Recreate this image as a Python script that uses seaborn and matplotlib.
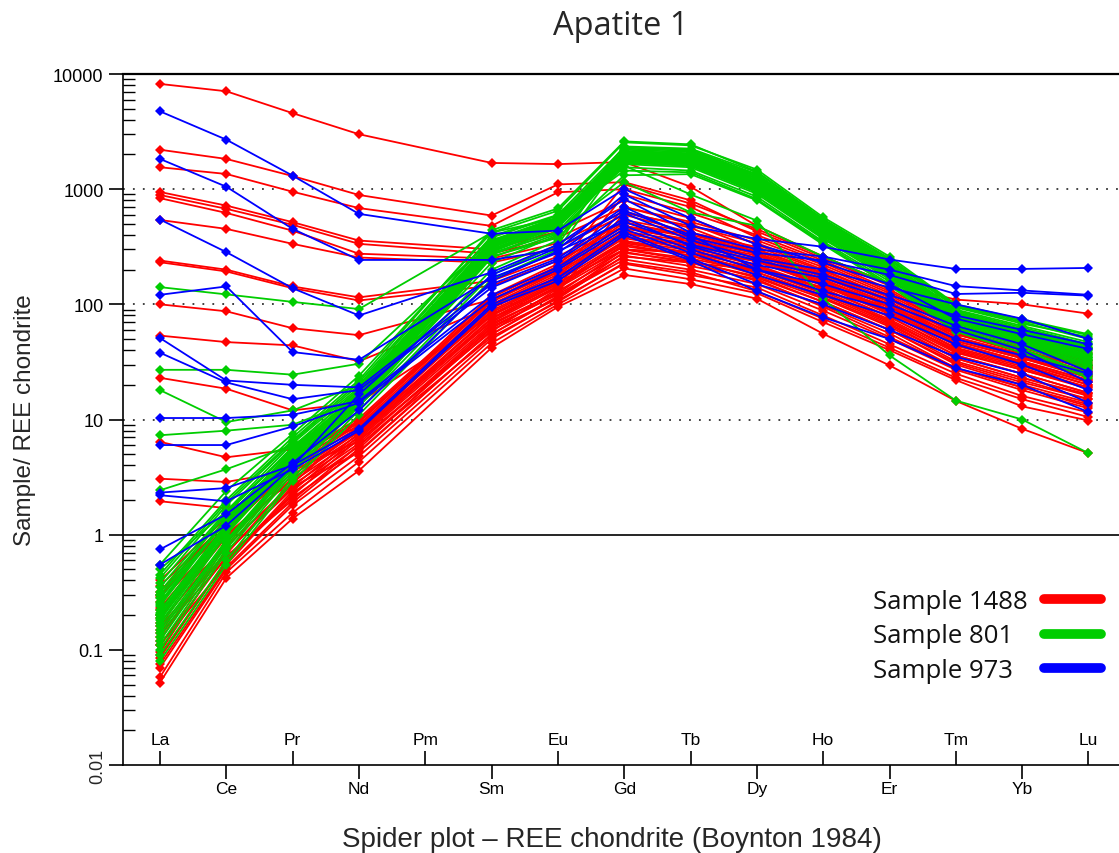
import matplotlib
matplotlib.use("Agg")
import matplotlib.pyplot as plt
import matplotlib.transforms as mtransforms
from matplotlib.lines import Line2D
from matplotlib.ticker import LogLocator, NullFormatter
import numpy as np
import pandas as pd
import seaborn as sns

# ---------------- data ----------------
elements = ["La", "Ce", "Pr", "Nd", "Pm", "Sm", "Eu", "Gd", "Tb", "Dy", "Ho", "Er", "Tm", "Yb", "Lu"]
measured = ["La", "Ce", "Pr", "Nd", "Sm", "Eu", "Gd", "Tb", "Dy", "Ho", "Er", "Tm", "Yb", "Lu"]
upper_labels = ["La", "Pr", "Pm", "Eu", "Tb", "Ho", "Tm", "Lu"]
lower_labels = ["Ce", "Nd", "Sm", "Gd", "Dy", "Er", "Yb"]
y_tick_values = [0.01, 0.1, 1, 10, 100, 1000, 10000]
y_tick_labels = ["0.01", "0.1", "1", "10", "100", "1000", "10000"]
sample_names = ["Sample 1488", "Sample 801", "Sample 973"]
sample_colors = ["#FF0000", "#00CD00", "#0000FF"]

# each row: La Ce Pr Nd Sm Eu Gd Tb Dy Ho Er Tm Yb Lu (chondrite normalised)
s1488 = [
    [8200, 7080, 4570, 3000, 1690, 1650, 1720, 1050, 480, 260, 150, 110, 100, 83],
    [2200, 1830, 1300, 890, 590, 1100, 1150, 800, 430, 250, 145, 75, 52, 38],
    [1550, 1355, 950, 685, 480, 940, 1000, 700, 380, 230, 130, 62, 45, 32],
    [945, 720, 517, 358, 300, 430, 800, 560, 330, 200, 115, 56, 40, 28],
    [890, 675, 490, 335, 275, 380, 700, 500, 300, 185, 105, 52, 36, 26],
    [835, 622, 436, 275, 250, 340, 640, 460, 280, 175, 100, 48, 34, 24],
    [540, 452, 335, 255, 230, 310, 600, 420, 270, 165, 95, 46, 32, 22],
    [240, 200, 143, 115, 160, 260, 520, 380, 250, 155, 88, 44, 31, 21],
    [232, 193, 138, 108, 145, 240, 480, 350, 235, 148, 84, 41, 29, 20],
    [100, 87, 62, 54, 110, 190, 420, 320, 215, 135, 78, 39, 27, 19],
    [53.5, 47, 44, 32, 95, 170, 390, 300, 200, 125, 72, 36, 25, 17],
    [23, 18.5, 12, 14, 80, 150, 350, 280, 190, 120, 68, 34, 23, 16],
    [6.4, 4.7, 5.5, 8.5, 70, 140, 330, 265, 180, 112, 64, 32, 22, 15],
    [3.06, 2.87, 3.6, 6.5, 62, 125, 300, 240, 170, 105, 60, 30, 20, 14],
    [1.95, 1.7, 2.6, 5.2, 55, 115, 285, 230, 160, 98, 56, 28, 19, 13],
    [0.052, 0.42, 1.38, 3.6, 42, 95, 180, 150, 112, 55.5, 29.5, 14.5, 8.3, 5.1],
    [0.058, 0.47, 1.55, 4.3, 46, 100, 205, 165, 125, 70, 40, 22, 13, 9.8],
    [0.07, 0.5, 1.8, 4.8, 50, 108, 225, 180, 140, 80, 45, 25, 16, 11.5],
    [0.085, 0.6, 2.1, 5.3, 55, 118, 245, 200, 150, 88, 50, 27, 18, 12.5],
    [0.11, 0.55, 2.3, 5.9, 60, 112, 265, 215, 165, 95, 52, 28, 19, 13.5],
    [0.095, 0.72, 2.5, 6.2, 66, 130, 280, 235, 175, 105, 60, 31, 21, 15],
    [0.13, 0.8, 2.7, 6.6, 58, 138, 300, 250, 190, 115, 66, 34, 23, 16.5],
    [0.15, 0.68, 2.9, 7.0, 72, 145, 320, 265, 200, 125, 70, 36, 25, 17],
    [0.12, 0.9, 3.1, 7.4, 76, 150, 340, 280, 210, 130, 74, 38, 27, 18.5],
    [0.17, 0.85, 3.3, 7.8, 82, 160, 355, 295, 220, 138, 78, 40, 28, 19],
    [0.2, 1.0, 3.0, 8.2, 88, 168, 375, 305, 235, 145, 82, 42, 30, 20],
    [0.19, 0.95, 3.5, 8.0, 92, 175, 390, 320, 245, 150, 86, 44, 31, 21],
    [0.23, 1.1, 3.8, 8.6, 97, 182, 410, 335, 255, 158, 90, 46, 32, 22],
    [0.26, 1.05, 4.0, 9.0, 100, 190, 430, 350, 265, 165, 95, 48, 34, 23],
    [0.29, 1.2, 4.2, 9.4, 105, 198, 455, 365, 275, 172, 100, 50, 35, 24],
    [0.32, 1.3, 4.5, 9.8, 110, 205, 480, 385, 290, 180, 105, 52, 37, 25],
    [0.36, 1.25, 4.8, 10.2, 115, 215, 510, 400, 300, 188, 110, 55, 38, 26],
    [0.4, 1.4, 5.0, 9.5, 120, 225, 540, 420, 315, 195, 115, 57, 40, 27],
    [0.14, 0.62, 2.2, 6.8, 68, 128, 620, 480, 340, 210, 120, 60, 42, 29],
    [0.09, 0.58, 2.4, 7.2, 75, 142, 700, 520, 360, 220, 125, 62, 44, 30],
    [0.22, 0.78, 2.8, 8.8, 85, 165, 900, 620, 400, 240, 135, 65, 46, 31],
    [0.3, 1.15, 3.7, 9.6, 108, 210, 1100, 750, 450, 260, 150, 70, 48, 33],
    [0.075, 0.52, 1.9, 5.6, 64, 122, 260, 230, 200, 140, 95, 55, 40, 28],
    [0.16, 0.7, 2.6, 7.6, 80, 155, 300, 280, 240, 160, 100, 58, 42, 29],
    [0.11, 0.65, 2.0, 6.0, 52, 105, 230, 190, 130, 75, 42, 23, 15, 10.5],
]

s801 = [
    [141, 122, 105, 91, 420, 560, 2050, 1850, 1150, 470, 210, 85, 58, 42],
    [27, 27, 24.5, 30.5, 360, 520, 1900, 1750, 1050, 430, 195, 78, 52, 36],
    [18, 9.5, 12, 20, 300, 470, 1750, 1650, 980, 410, 185, 73, 50, 34],
    [7.3, 8.0, 9.0, 15, 270, 430, 1800, 1700, 1000, 415, 188, 74, 50, 35],
    [2.43, 3.7, 6.0, 13, 255, 410, 1700, 1600, 950, 400, 182, 70, 48, 33],
    [0.3, 1.3, 5.2, 15, 330, 480, 1600, 900, 533, 112, 36, 14.6, 10, 5.1],
    [0.5, 1.6, 5.5, 17, 280, 420, 1150, 630, 480, 260, 150, 65, 45, 30],
    [0.55, 2.4, 7.5, 24, 420, 650, 2550, 2400, 1480, 570, 260, 100, 74, 55],
    [0.12, 0.8, 3.8, 14, 300, 500, 2350, 2250, 1400, 540, 245, 96, 70, 50],
    [0.42, 1.9, 6.6, 21, 390, 600, 2300, 2200, 1350, 530, 240, 94, 68, 52],
    [0.09, 0.6, 3.1, 12, 180, 330, 2250, 2150, 1330, 520, 232, 90, 65, 47],
    [0.35, 1.6, 6.2, 19, 360, 570, 2200, 2100, 1300, 510, 228, 88, 63, 45],
    [0.2, 1.2, 4.6, 16, 320, 520, 2150, 2050, 1280, 505, 225, 86, 61, 44],
    [0.3, 1.5, 5.8, 18, 350, 560, 2120, 2020, 1250, 495, 220, 85, 60, 43],
    [0.15, 0.9, 4.1, 15, 290, 480, 2100, 2000, 1230, 490, 218, 84, 59, 42],
    [0.25, 1.4, 5.4, 17, 340, 540, 2080, 1980, 1200, 480, 214, 83, 58, 41],
    [0.1, 0.7, 3.4, 13, 200, 360, 2050, 1950, 1180, 475, 210, 82, 57, 40],
    [0.18, 1.1, 5.0, 16.5, 330, 530, 2020, 1920, 1160, 468, 206, 80, 56, 39],
    [0.28, 1.3, 5.2, 17.5, 345, 550, 2000, 1900, 1150, 460, 203, 79, 55, 38],
    [0.13, 0.85, 3.9, 14.5, 285, 470, 1980, 1880, 1130, 455, 200, 78, 54, 37],
    [0.22, 1.25, 4.8, 16, 310, 510, 1950, 1850, 1110, 448, 198, 77, 53, 36],
    [0.38, 1.8, 6.4, 20, 380, 590, 1920, 1820, 1090, 440, 195, 76, 52, 35],
    [0.08, 0.55, 2.9, 11, 165, 300, 1900, 1800, 1070, 432, 192, 75, 51, 34],
    [0.16, 1.0, 4.4, 15.5, 300, 490, 1870, 1770, 1050, 425, 188, 74, 50, 33],
    [0.24, 1.35, 5.1, 17, 335, 535, 1850, 1750, 1030, 418, 185, 72, 49, 32],
    [0.11, 0.75, 3.6, 13.5, 270, 460, 1820, 1720, 1010, 410, 182, 71, 48, 31],
    [0.19, 1.15, 4.7, 16, 315, 515, 1780, 1680, 990, 400, 178, 70, 47, 30],
    [0.32, 1.55, 5.6, 18.5, 355, 565, 1750, 1650, 970, 392, 175, 68, 46, 29],
    [0.14, 0.88, 4.0, 14, 230, 400, 1700, 1600, 940, 380, 170, 66, 45, 28],
    [0.21, 1.2, 4.9, 16.2, 325, 525, 1650, 1550, 910, 370, 165, 64, 43, 27],
    [0.17, 1.05, 4.3, 15, 295, 485, 1550, 1450, 860, 350, 158, 62, 41, 25],
    [0.26, 1.4, 5.3, 17.2, 340, 545, 1450, 1400, 820, 340, 150, 60, 40, 24],
    [0.2, 1.1, 4.5, 14, 260, 380, 1320, 1350, 800, 330, 145, 58, 38, 23],
    [0.45, 2.0, 7.0, 22, 440, 680, 2600, 2450, 1420, 550, 250, 98, 72, 54],
]

s973 = [
    [4740, 2690, 1310, 610, 410, 437, 1000, 560, 330, 230, 150, 75, 55, 41],
    [1830, 1050, 452, 243, 243, 300, 900, 480, 370, 316, 245, 203, 203, 207],
    [545, 284, 138, 80, 190, 330, 820, 420, 300, 260, 200, 144, 132, 121],
    [121, 143, 38.5, 33, 170, 280, 700, 380, 280, 240, 180, 123, 126, 119],
    [51, 21.8, 20, 19, 150, 250, 620, 360, 250, 200, 140, 100, 75, 50],
    [38, 21, 15, 18, 140, 240, 560, 320, 220, 170, 110, 65, 45, 26],
    [10.3, 10.3, 11, 14.5, 120, 210, 480, 300, 200, 150, 100, 60, 40, 21],
    [6.0, 6.0, 8.7, 14, 110, 200, 450, 280, 180, 120, 80, 45, 30, 18],
    [2.32, 2.54, 4.0, 8.3, 100, 170, 420, 250, 150, 100, 60, 35, 25, 14],
    [2.2, 1.95, 3.7, 8, 95, 160, 400, 240, 130, 77, 50, 28, 20, 11.6],
    [0.745, 1.5, 4.2, 12, 160, 290, 520, 330, 240, 180, 120, 80, 60, 45],
    [0.55, 1.2, 3.9, 16.5, 180, 310, 650, 400, 200, 130, 90, 50, 36, 25],
]

# ---------------- long table ----------------
rows = []
for name, lines in zip(sample_names, [s1488, s801, s973]):
    for k, vals in enumerate(lines):
        for el, v in zip(measured, vals):
            rows.append({"sample": name, "unit": f"{name}-{k}",
                         "pos": elements.index(el) + 1, "value": v})
df = pd.DataFrame(rows)

# ---------------- figure ----------------
sns.set_style("white")
plt.rcParams["font.family"] = ["Liberation Sans", "DejaVu Sans"]

W, H = 1119, 854
fig = plt.figure(figsize=(W / 100, H / 100), dpi=100)
ax = fig.add_axes([123 / W, (H - 766) / H, (W - 123) / W, (766 - 75) / H])

sns.lineplot(data=df, x="pos", y="value", hue="sample", units="unit",
             estimator=None, hue_order=sample_names,
             palette=dict(zip(sample_names, sample_colors)),
             marker="D", markersize=4.7, markeredgewidth=0,
             linewidth=1.3, legend=False, ax=ax, zorder=3)

ax.set_yscale("log")
ax.set_ylim(0.01, 10000)
ax.set_xlim(0.442, 15.46)

# reference lines
ax.axhline(1, color="black", lw=1.2, zorder=1)
for v in [10, 100, 1000]:
    ax.axhline(v, color="#333333", lw=1.3, ls=(0, (1, 4.5)), zorder=1)

# spines
for s in ["left", "bottom"]:
    ax.spines[s].set_color("black")
    ax.spines[s].set_linewidth(1.2)
ax.spines["top"].set_color("black")
ax.spines["top"].set_linewidth(1.6)
ax.spines["right"].set_visible(False)

# y ticks
ax.set_yticks(y_tick_values)
ax.set_yticklabels(["" if t == "0.01" else t for t in y_tick_labels], fontsize=13)
ax.yaxis.set_minor_locator(LogLocator(base=10, subs=np.arange(2, 10), numticks=20))
ax.yaxis.set_minor_formatter(NullFormatter())
ax.tick_params(axis="y", which="both", left=True, right=False)
ax.tick_params(axis="y", which="major", direction="out", length=10, width=1.2,
               labelsize=13, pad=4, colors="black")
ax.tick_params(axis="y", which="minor", direction="in", length=8.5, width=1.0,
               colors="black")
ax.text(-0.017, 0.01, "0.01", rotation=90, ha="right", va="center", fontsize=13,
        transform=mtransforms.blended_transform_factory(ax.transAxes, ax.transData))

# x ticks: upper row inside, lower row outside
ax.set_xticks([elements.index(e) + 1 for e in upper_labels])
ax.set_xticklabels(upper_labels)
ax.set_xticks([elements.index(e) + 1 for e in lower_labels], minor=True)
ax.set_xticklabels(lower_labels, minor=True)
ax.tick_params(axis="x", which="both", bottom=True, top=False)
ax.tick_params(axis="x", which="major", direction="in", length=10, width=1.2,
               labelsize=12.5, pad=-24, colors="black")
ax.tick_params(axis="x", which="minor", direction="out", length=10, width=1.2,
               labelsize=12.5, pad=1.5, colors="black")

ax.set_xlabel("Spider plot \u2013 REE chondrite (Boynton 1984)", fontsize=20)
ax.xaxis.set_label_coords((612 - 123) / (W - 123), -(827 - 766) / (766 - 75))
ax.set_ylabel("Sample/ REE chondrite", fontsize=17.5)
ax.yaxis.set_label_coords((36 - 123) / (W - 123), 0.5)

ax.set_title("Apatite 1", fontsize=23.5, fontfamily="Open Sans", pad=29)

# legend: label text on the left, thick line on the right
for i, (name, col) in enumerate(zip(sample_names, sample_colors)):
    yc = 600 + i * 34.5
    fig.text(873 / W, 1 - (yc + 9) / H, name, ha="left", va="baseline",
             fontsize=18.5, fontfamily="Open Sans", color="#111111")
    fig.add_artist(Line2D([1044 / W, 1101 / W], [1 - yc / H, 1 - yc / H],
                          transform=fig.transFigure, color=col, lw=7,
                          solid_capstyle="round"))

fig.savefig("out.png", dpi=100)
